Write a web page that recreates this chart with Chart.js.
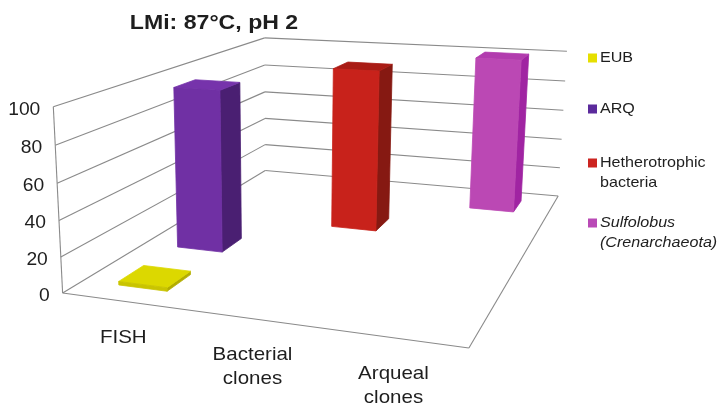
<!DOCTYPE html>
<html>
<head>
<meta charset="utf-8">
<script src="https://cdn.jsdelivr.net/npm/chart.js@4/dist/chart.umd.min.js"></script>
<style>
  html, body { margin: 0; padding: 0; background: #ffffff; }
  #wrap { width: 719px; height: 410px; }
</style>
</head>
<body>
<div id="wrap"><canvas id="chart" width="719" height="410"></canvas></div>
<script>
// ---- data ----
const chartTitle = 'LMi: 87°C, pH 2';
const categories = [['FISH'], ['Bacterial', 'clones'], ['Arqueal', 'clones']];
const seriesNames = [['EUB'], ['ARQ'], ['Hetherotrophic', 'bacteria'], ['Sulfolobus', '(Crenarchaeota)']];
const eubValues        = [2, null, null];
const arqValues        = [96, null, null];
const heteroValues     = [null, 100, null];
const sulfolobusValues = [null, null, 100];
const valueTicks = [0, 20, 40, 60, 80, 100];

// ---- styles ----
const seriesColors = [
  { legend: '#e6df00', front: '#c9c400', side: '#b3ad00', top: '#dcd800' },
  { legend: '#5b2a9c', front: '#7030a4', side: '#4a1f72', top: '#7633ab' },
  { legend: '#cc2420', front: '#c8221b', side: '#861912', top: '#a91c15' },
  { legend: '#b94ab6', front: '#bb48b4', side: '#a024a2', top: '#b23cae' }
];
const legendItalic = [false, false, false, true];
const FONT = '"Liberation Sans", Arial, Helvetica, sans-serif';
const TEXT_COLOR = '#1e1e1e';
const GRID_COLOR = '#8a8a8a';
const BAR_DEPTH = 0.4;       // share of a series slot used by a column's depth

// Screen placement of the 3-D plot box: [u, v, z] (0..1 each) -> canvas [x, y]
const boxFrame = [
  [[0, 0, 0], [63, 293]], [[0, .2, 0], [61, 256]], [[0, .4, 0], [59, 220]],
  [[0, .6, 0], [57, 183]], [[0, .8, 0], [55, 145]], [[0, 1, 0], [53, 108]],
  [[1, 0, 0], [469, 349]],
  [[0, 0, 1], [265, 172]], [[0, .2, 1], [265, 145]], [[0, .4, 1], [265, 118]],
  [[0, .6, 1], [265, 92]], [[0, .8, 1], [265, 65]], [[0, 1, 1], [265, 37]],
  [[1, 0, 1], [558, 196]], [[1, .2, 1], [560, 167]], [[1, .4, 1], [562, 138]],
  [[1, .6, 1], [563, 110]], [[1, .8, 1], [565, 82]], [[1, 1, 1], [567, 52]]
];

// Fit a perspective camera (3x4 projection) to the frame by least squares.
function fitCamera(pairs) {
  const rows = [], rhs = [];
  for (const [[X, Y, Z], [x, y]] of pairs) {
    rows.push([X, Y, Z, 1, 0, 0, 0, 0, -x * X, -x * Y, -x * Z]); rhs.push(x);
    rows.push([0, 0, 0, 0, X, Y, Z, 1, -y * X, -y * Y, -y * Z]); rhs.push(y);
  }
  const n = 11;
  const N = Array.from({ length: n }, () => new Array(n + 1).fill(0));
  rows.forEach((r, k) => {
    for (let i = 0; i < n; i++) {
      for (let j = 0; j < n; j++) N[i][j] += r[i] * r[j];
      N[i][n] += r[i] * rhs[k];
    }
  });
  for (let c = 0; c < n; c++) {
    let p = c;
    for (let r = c + 1; r < n; r++) if (Math.abs(N[r][c]) > Math.abs(N[p][c])) p = r;
    [N[c], N[p]] = [N[p], N[c]];
    for (let r = 0; r < n; r++) {
      if (r === c) continue;
      const f = N[r][c] / N[c][c];
      for (let k = c; k <= n; k++) N[r][k] -= f * N[c][k];
    }
  }
  const a = N.map((row, i) => row[n] / row[i]);
  return (X, Y, Z) => {
    const w = a[8] * X + a[9] * Y + a[10] * Z + 1;
    return [(a[0] * X + a[1] * Y + a[2] * Z + a[3]) / w,
            (a[4] * X + a[5] * Y + a[6] * Z + a[7]) / w];
  };
}
const project = fitCamera(boxFrame);

function text(ctx, str, x, y, size, opts = {}) {
  ctx.save();
  ctx.translate(x, y);
  ctx.scale(opts.stretch || 1.08, 1);
  ctx.font = `${opts.italic ? 'italic ' : ''}${opts.bold ? 'bold ' : ''}${size}px ${FONT}`;
  ctx.fillStyle = TEXT_COLOR;
  ctx.textAlign = opts.align || 'left';
  ctx.textBaseline = 'middle';
  ctx.fillText(str, 0, 0);
  ctx.restore();
}

function line3(ctx, a, b) {
  const p = project(...a), q = project(...b);
  ctx.beginPath();
  ctx.moveTo(p[0], p[1]);
  ctx.lineTo(q[0], q[1]);
  ctx.stroke();
}

function face(ctx, pts, color) {
  ctx.beginPath();
  pts.forEach((pt, i) => {
    const p = project(...pt);
    if (i === 0) ctx.moveTo(p[0], p[1]); else ctx.lineTo(p[0], p[1]);
  });
  ctx.closePath();
  ctx.fillStyle = color;
  ctx.strokeStyle = color;
  ctx.lineWidth = 0.8;
  ctx.fill();
  ctx.stroke();
}

const scene3d = {
  id: 'scene3d',
  beforeDatasetsDraw(chart) {
    const ctx = chart.ctx;
    const ca = chart.chartArea;
    const xs = chart.scales.x, ys = chart.scales.y;
    const nu = px => (px - ca.left) / ca.width;
    const nv = py => (ca.bottom - py) / ca.height;

    // walls: gridlines on the side wall and back wall
    ctx.save();
    ctx.strokeStyle = GRID_COLOR;
    ctx.lineWidth = 1.1;
    valueTicks.forEach(t => {
      const v = nv(ys.getPixelForValue(t));
      line3(ctx, [0, v, 0], [0, v, 1]);
      line3(ctx, [0, v, 1], [1, v, 1]);
    });
    // value axis and floor edges
    line3(ctx, [0, 0, 0], [0, 1, 0]);
    line3(ctx, [0, 0, 0], [1, 0, 0]);
    line3(ctx, [1, 0, 0], [1, 0, 1]);
    ctx.restore();

    // columns, far ones first
    const nSeries = chart.data.datasets.length;
    const boxes = [];
    chart.data.datasets.forEach((ds, d) => {
      const meta = chart.getDatasetMeta(d);
      ds.data.forEach((val, i) => {
        if (val === null || val === undefined) return;
        const el = meta.data[i];
        const { x, y, base, width } = el.getProps(['x', 'y', 'base', 'width'], true);
        const zc = (d + 0.5) / nSeries, dz = BAR_DEPTH / nSeries / 2;
        boxes.push({
          u0: nu(x - width / 2), u1: nu(x + width / 2),
          v0: nv(base), v1: nv(y), z0: zc - dz, z1: zc + dz, c: seriesColors[d]
        });
      });
    });
    boxes.sort((a, b) => b.z0 - a.z0);
    boxes.forEach(b => {
      ctx.save();
      face(ctx, [[b.u1, b.v0, b.z0], [b.u1, b.v0, b.z1], [b.u1, b.v1, b.z1], [b.u1, b.v1, b.z0]], b.c.side);
      face(ctx, [[b.u0, b.v1, b.z0], [b.u1, b.v1, b.z0], [b.u1, b.v1, b.z1], [b.u0, b.v1, b.z1]], b.c.top);
      face(ctx, [[b.u0, b.v0, b.z0], [b.u1, b.v0, b.z0], [b.u1, b.v1, b.z0], [b.u0, b.v1, b.z0]], b.c.front);
      ctx.restore();
    });

    // value labels along the front edge of the side wall
    valueTicks.forEach(t => {
      const v = nv(ys.getPixelForValue(t));
      const p = project(0, v, 0);
      text(ctx, String(t), p[0] - 13, p[1] + 3, 18, { align: 'right', stretch: 1.07 });
    });

    // category labels under the floor
    categories.forEach((lines, i) => {
      const p = project(nu(xs.getPixelForValue(i)), 0, 0);
      lines.forEach((ln, k) => {
        text(ctx, ln, p[0], p[1] + 36 + k * 24, 19, { align: 'center', stretch: 1.08 });
      });
    });

    // title
    text(ctx, chartTitle, 214, 23, 21, { bold: true, align: 'center', stretch: 1.1 });

    // legend
    const rowY = [58, 109, 163, 223];
    chart.data.datasets.forEach((ds, d) => {
      ctx.fillStyle = seriesColors[d].legend;
      ctx.fillRect(588, rowY[d] - 4.5, 9, 9);
      seriesNames[d].forEach((ln, k) => {
        text(ctx, ln, 600, rowY[d] + k * 19.5, 14.5, { italic: legendItalic[d], stretch: 1.11 });
      });
    });
    return false;
  }
};

new Chart(document.getElementById('chart'), {
  type: 'bar',
  data: {
    labels: categories,
    datasets: [
      { label: seriesNames[0].join(' '), data: eubValues },
      { label: seriesNames[1].join(' '), data: arqValues },
      { label: seriesNames[2].join(' '), data: heteroValues },
      { label: seriesNames[3].join(' '), data: sulfolobusValues }
    ].map(ds => Object.assign(ds, { grouped: false, barPercentage: 1, categoryPercentage: 0.4 }))
  },
  options: {
    responsive: false,
    animation: false,
    devicePixelRatio: 1,
    layout: { padding: 0 },
    plugins: { legend: { display: false }, title: { display: false }, tooltip: { enabled: false } },
    scales: {
      x: { type: 'category', display: false, offset: true },
      y: { display: false, min: 0, max: 100 }
    }
  },
  plugins: [scene3d]
});
</script>
</body>
</html>
